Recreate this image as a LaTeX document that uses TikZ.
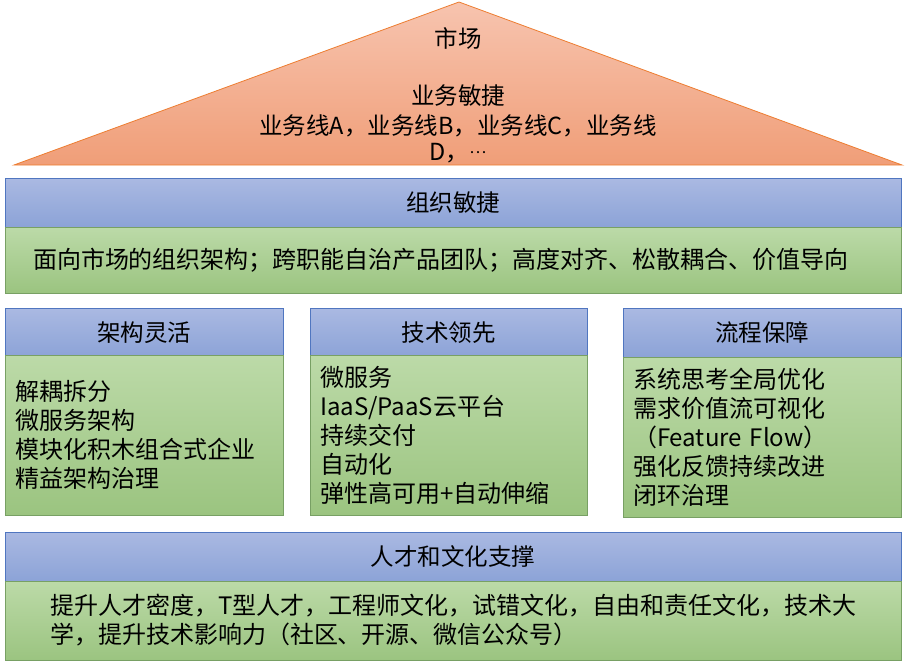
\documentclass[tikz,border=0pt]{standalone}
\usepackage{fontspec}
\setmainfont{Noto Sans CJK SC}
\definecolor{hdrTop}{RGB}{170,185,226}
\definecolor{hdrBot}{RGB}{140,163,215}
\definecolor{hdrLine}{RGB}{80,118,192}
\definecolor{grnTop}{RGB}{188,218,168}
\definecolor{grnBot}{RGB}{155,196,128}
\definecolor{grnLine}{RGB}{120,160,100}
\definecolor{triTop}{RGB}{247,196,175}
\definecolor{triBot}{RGB}{240,158,120}
\definecolor{triLine}{RGB}{237,125,49}
\begin{document}
\begin{tikzpicture}[x=1pt,y=-1pt,
  txt/.style={font=\fontsize{23.5}{29}\selectfont, inner sep=0pt},
  hdr/.style={draw=hdrLine, line width=1pt, top color=hdrTop, bottom color=hdrBot, font=\fontsize{23.5}{29}\selectfont, inner sep=0pt},
  body/.style={draw=grnLine, line width=0.8pt, top color=grnTop, bottom color=grnBot, font=\fontsize{24}{29}\selectfont, inner sep=0pt},
  colbody/.style={body, minimum width=278pt, minimum height=160pt, text width=256pt, align=left}]
\useasboundingbox (0,0) rectangle (905,670);
% pyramid
\coordinate (apex) at (459,2);
\coordinate (bl) at (14,165);
\coordinate (br) at (902,165);
\draw[draw=triLine, line width=0.8pt, top color=triTop, bottom color=triBot] (apex) -- (br) -- (bl) -- cycle;
\node[txt] (mkt) at (458,38) {市场};
\node[txt] (ba) at (458,96) {业务敏捷};
\node[txt] (bl1) at (458,126) {业务线A，业务线B，业务线C，业务线};
\node[txt] (bl2) at (458,153) {D，\raisebox{0.3em}{\fontsize{16}{16}\selectfont …}};
% organisation
\node[hdr, minimum width=896pt, minimum height=49pt] (orgh) at (453,202.5) {组织敏捷};
\node[body, minimum width=896pt, minimum height=66pt, text width=840pt, align=left] (orgb) at (453,260) {面向市场的组织架构；跨职能自治产品团队；高度对齐、松散耦合、价值导向};
% columns
\node[hdr, minimum width=278pt, minimum height=49pt] (c1h) at (144,332.5) {架构灵活};
\node[colbody] (c1b) at (144,435) {解耦拆分\\微服务架构\\模块化积木组合式企业\\精益架构治理};
\node[hdr, minimum width=277pt, minimum height=49pt] (c2h) at (448.5,332.5) {技术领先};
\node[colbody, minimum width=277pt, text width=257pt] (c2b) at (448.5,435) {微服务\\IaaS/PaaS云平台\\持续交付\\自动化\\弹性高可用+自动伸缩};
\node[hdr, minimum width=278pt, minimum height=49pt] (c3h) at (762,332.5) {流程保障};
\node[colbody, text width=258pt] (c3b) at (762,437) {系统思考全局优化\\需求价值流可视化\\（Feature Flow）\\强化反馈持续改进\\闭环治理};
% talent
\node[hdr, minimum width=896pt, minimum height=49pt] (talh) at (453,556.5) {人才和文化支撑};
\node[body, minimum width=896pt, minimum height=79pt, text width=806pt, align=left] (talb) at (453,620.5) {提升人才密度，T型人才，工程师文化，试错文化，自由和责任文化，技术大\\学，提升技术影响力（社区、开源、微信公众号）};
\end{tikzpicture}
\end{document}
